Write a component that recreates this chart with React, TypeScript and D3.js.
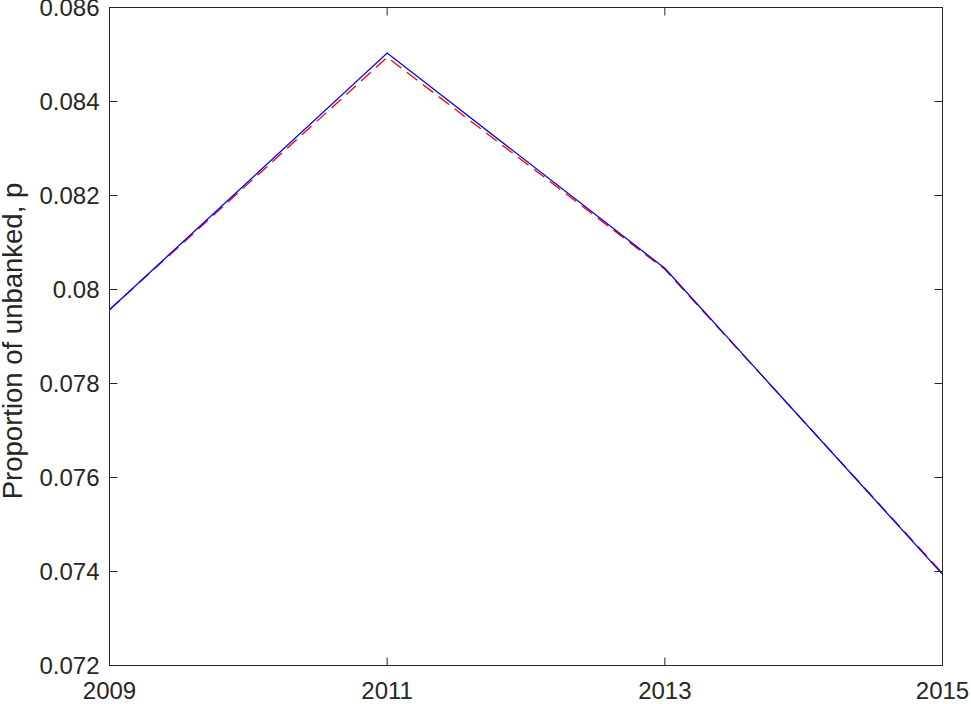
import React, { useEffect, useRef } from 'react';
import * as d3 from 'd3';

const years = [2009, 2011, 2013, 2015];
const observed = [0.07957, 0.08503, 0.08045, 0.07394];
const fitted = [0.07957, 0.08494, 0.08043, 0.07396];
const xTicks = [2009, 2011, 2013, 2015];
const yTicks = [0.072, 0.074, 0.076, 0.078, 0.08, 0.082, 0.084, 0.086];

export default function App() {
  const ref = useRef<SVGSVGElement>(null);

  useEffect(() => {
    const width = 971;
    const height = 704;
    const margin = { top: 7.5, right: 28.5, bottom: 38.5, left: 109.5 };
    const font = '"Liberation Sans", Arial, Helvetica, sans-serif';
    const axisColor = '#262626';

    const svg = d3.select(ref.current);
    svg.selectAll('*').remove();

    const x = d3
      .scaleLinear()
      .domain([2009, 2015])
      .range([margin.left, width - margin.right]);
    const y = d3
      .scaleLinear()
      .domain([0.072, 0.086])
      .range([height - margin.bottom, margin.top]);

    const line = d3
      .line<number>()
      .x((_, i) => x(years[i]))
      .y((d) => y(d));

    svg
      .append('path')
      .datum(fitted)
      .attr('d', line)
      .attr('fill', 'none')
      .attr('stroke', '#ff0000')
      .attr('stroke-width', 1.3)
      .attr('stroke-dasharray', '13,7');

    svg
      .append('path')
      .datum(observed)
      .attr('d', line)
      .attr('fill', 'none')
      .attr('stroke', '#0000ff')
      .attr('stroke-width', 1.3);

    const tickLen = 8;
    const fmtY = (d: number) => d3.format('.3f')(d).replace(/0+$/, '').replace(/\.$/, '');

    // left / right ticks
    const yTickG = svg.append('g');
    yTickG
      .selectAll('line.l')
      .data(yTicks)
      .enter()
      .append('line')
      .attr('x1', x(2009))
      .attr('x2', x(2009) + tickLen)
      .attr('y1', (d) => y(d))
      .attr('y2', (d) => y(d))
      .attr('stroke', axisColor);
    yTickG
      .selectAll('line.r')
      .data(yTicks)
      .enter()
      .append('line')
      .attr('x1', x(2015))
      .attr('x2', x(2015) - tickLen)
      .attr('y1', (d) => y(d))
      .attr('y2', (d) => y(d))
      .attr('stroke', axisColor);
    yTickG
      .selectAll('text')
      .data(yTicks)
      .enter()
      .append('text')
      .attr('x', x(2009) - 10)
      .attr('y', (d) => y(d))
      .attr('dy', '0.35em')
      .attr('text-anchor', 'end')
      .attr('font-family', font)
      .attr('font-size', 24)
      .attr('fill', axisColor)
      .text((d) => fmtY(d));

    // bottom / top ticks
    const xTickG = svg.append('g');
    xTickG
      .selectAll('line.b')
      .data(xTicks)
      .enter()
      .append('line')
      .attr('x1', (d) => x(d))
      .attr('x2', (d) => x(d))
      .attr('y1', y(0.072))
      .attr('y2', y(0.072) - tickLen)
      .attr('stroke', axisColor);
    xTickG
      .selectAll('line.t')
      .data(xTicks)
      .enter()
      .append('line')
      .attr('x1', (d) => x(d))
      .attr('x2', (d) => x(d))
      .attr('y1', y(0.086))
      .attr('y2', y(0.086) + tickLen)
      .attr('stroke', axisColor);
    xTickG
      .selectAll('text')
      .data(xTicks)
      .enter()
      .append('text')
      .attr('x', (d) => x(d))
      .attr('y', y(0.072) + 33)
      .attr('text-anchor', 'middle')
      .attr('font-family', font)
      .attr('font-size', 24)
      .attr('fill', axisColor)
      .text((d) => String(d));

    // box
    svg
      .append('rect')
      .attr('x', x(2009))
      .attr('y', y(0.086))
      .attr('width', x(2015) - x(2009))
      .attr('height', y(0.072) - y(0.086))
      .attr('fill', 'none')
      .attr('stroke', axisColor)
      .attr('stroke-width', 1);

    svg
      .append('text')
      .attr('transform', `translate(22, 341) rotate(-90)`)
      .attr('text-anchor', 'middle')
      .attr('font-family', font)
      .attr('font-size', 27.5)
      .attr('fill', axisColor)
      .text('Proportion of unbanked, p');
  }, []);

  return (
    <div style={{ position: 'absolute', left: 0, top: 0 }}>
      <svg ref={ref} width={971} height={704} style={{ display: 'block', background: '#fff' }} />
    </div>
  );
}
